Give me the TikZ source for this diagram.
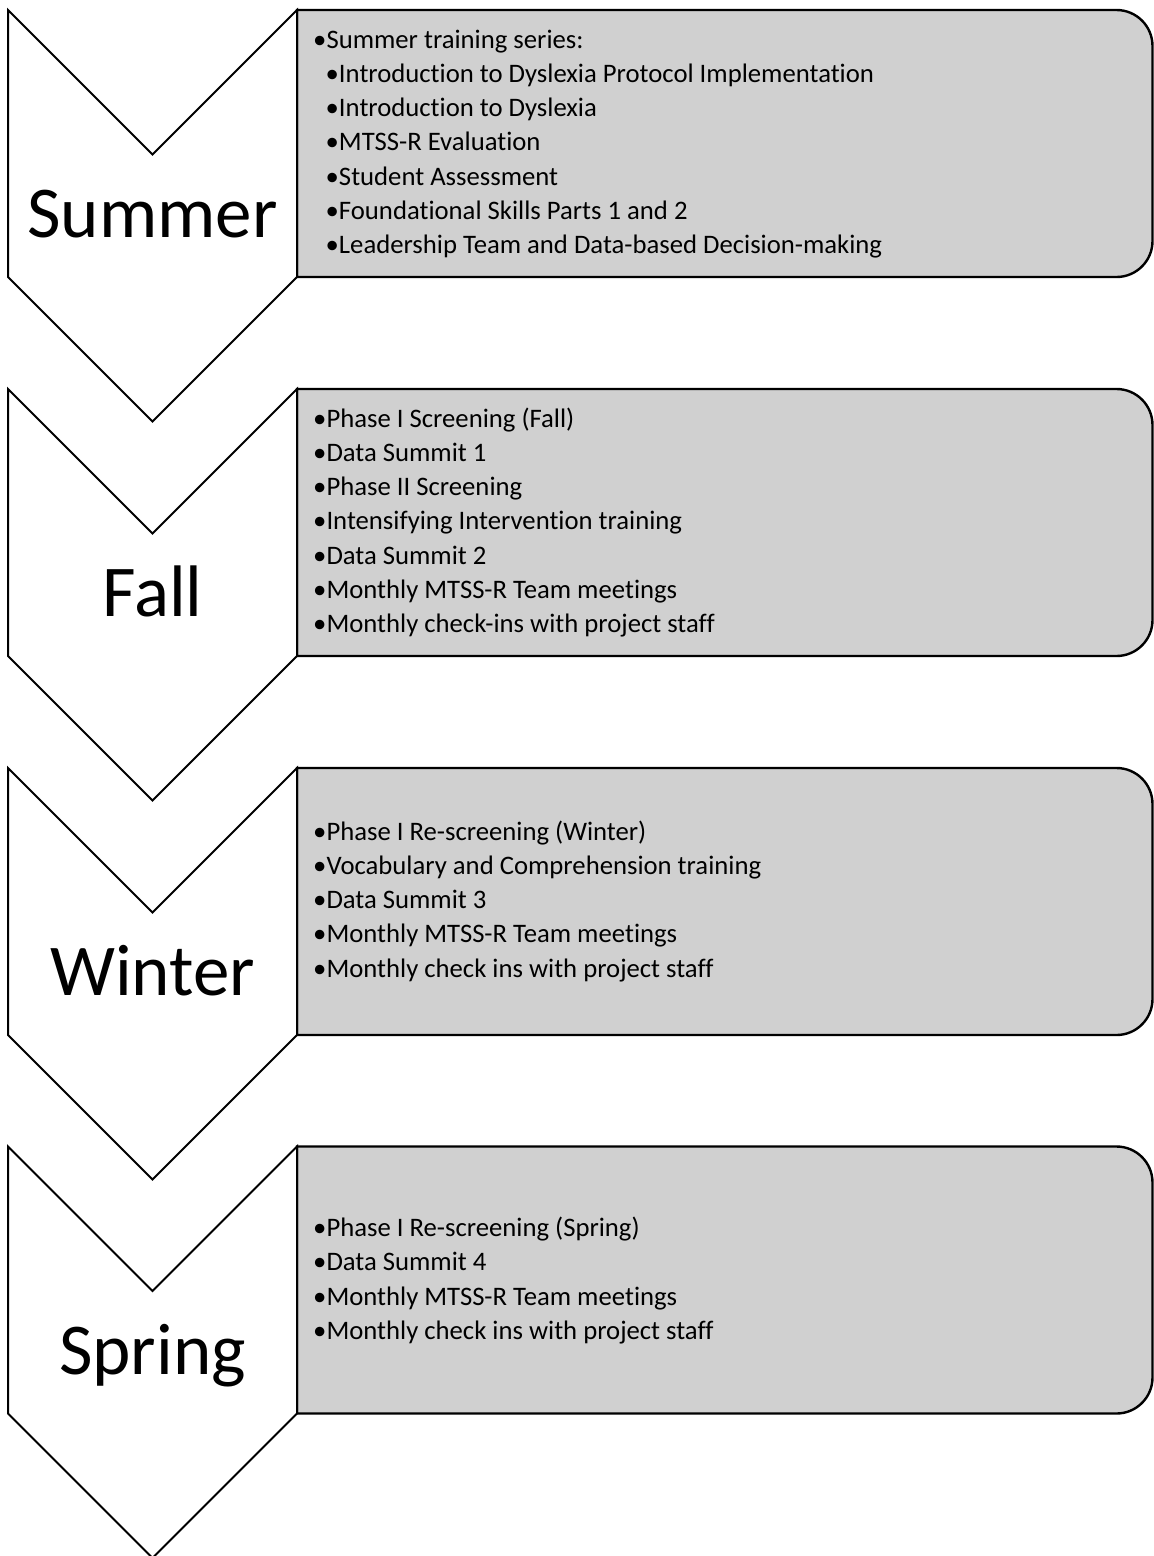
\documentclass[tikz,border=0pt]{standalone}
\usepackage{fontspec}
\setmainfont{Carlito}[Ligatures={NoCommon,NoRequired,NoContextual}]
\definecolor{boxgray}{RGB}{208,208,208}
\tikzset{
  chev/.style={draw=black, line width=2pt, fill=white, line join=miter},
  infobox/.style={draw=black, line width=2.4pt, fill=boxgray},
  season/.style={font=\fontsize{73}{86}\selectfont, inner sep=0pt, anchor=base},
  item/.style={font=\fontsize{26.7}{34}\selectfont, inner sep=0pt, anchor=base west},
}
\newcommand{\seasonshape}[3]{%
  % #1 top y, #2 name, #3 label
  \draw[infobox] (297,#1) -- (1116.5,#1) arc[start angle=270, end angle=360, radius=36]
    -- (1152.5,#1+231) arc[start angle=0, end angle=90, radius=36]
    -- (297,#1+267) -- cycle;
  \draw[chev] (8,#1) -- (152.5,#1+144.5) -- (297,#1) -- (297,#1+267)
    -- (152.5,#1+411.5) -- (8,#1+267) -- cycle;
  \node[season] (#2label) at (152.5,#1+227.5) {#3};
}
\begin{document}
\begin{tikzpicture}[x=1pt,y=-1pt]
\useasboundingbox (0,0) rectangle (1154,1556);

\seasonshape{10}{sum}{Summer}
\seasonshape{389}{fall}{Fall}
\seasonshape{768}{win}{Winter}
\seasonshape{1146.5}{spr}{Spring}

\foreach [count=\i] \lvl/\txt in {0/Summer training series:,
  1/Introduction to Dyslexia Protocol Implementation,
  1/Introduction to Dyslexia,
  1/MTSS-R Evaluation,
  1/Student Assessment,
  1/Foundational Skills Parts 1 and 2,
  1/Leadership Team and Data-based Decision-making}
  \node[item] (sum\i) at ({313+12.5*\lvl},{48+34.3*(\i-1)}) {•\txt};

\foreach [count=\i] \txt in {Phase I Screening (Fall),
  Data Summit 1,
  Phase II Screening,
  Intensifying Intervention training,
  Data Summit 2,
  Monthly MTSS-R Team meetings,
  Monthly check-ins with project staff}
  \node[item] (fall\i) at (313,{427+34.3*(\i-1)}) {•\txt};

\foreach [count=\i] \txt in {Phase I Re-screening (Winter),
  Vocabulary and Comprehension training,
  Data Summit 3,
  Monthly MTSS-R Team meetings,
  Monthly check ins with project staff}
  \node[item] (win\i) at (313,{840+34.3*(\i-1)}) {•\txt};

\foreach [count=\i] \txt in {Phase I Re-screening (Spring),
  Data Summit 4,
  Monthly MTSS-R Team meetings,
  Monthly check ins with project staff}
  \node[item] (spr\i) at (313,{1236.5+34.3*(\i-1)}) {•\txt};
\end{tikzpicture}
\end{document}
